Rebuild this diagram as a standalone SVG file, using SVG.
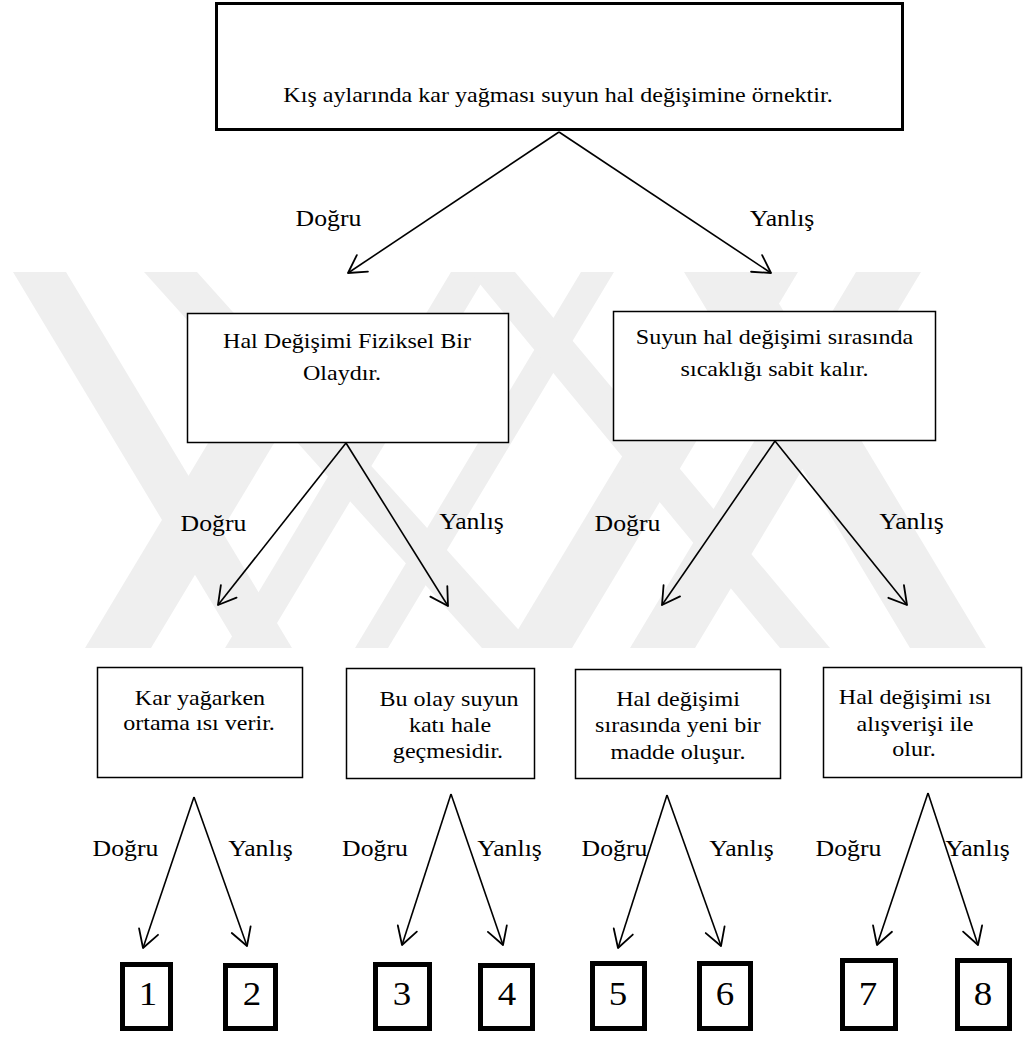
<svg xmlns="http://www.w3.org/2000/svg" width="1026" height="1039" viewBox="0 0 1026 1039">
<style>
  text { font-family: "Liberation Serif", "Times New Roman", serif; font-size: 21.5px; fill: #000; text-anchor: middle; }
  .lbl { font-size: 23px; }
  .num { font-size: 33px; }
  .box { fill: #fff; stroke: #000; stroke-width: 1.5; }
  .top { fill: #fff; stroke: #000; stroke-width: 3; }
  .nbox { fill: #fff; stroke: #000; stroke-width: 5; }
  .wm { fill: #efefef; stroke: none; }
  .conn line { stroke: #000; stroke-width: 1.6; marker-end: url(#arr); }
</style>
<defs>
  <marker id="arr" markerUnits="userSpaceOnUse" viewBox="-22 -13 24 26" markerWidth="24" markerHeight="26" refX="0" refY="0" orient="auto" overflow="visible">
    <path d="M -17.3 -10 L 0 0 L -17.3 10" fill="none" stroke="#000" stroke-width="1.8" stroke-linecap="round" stroke-linejoin="round"/>
  </marker>
</defs>
<rect width="1026" height="1039" fill="#fff"/>
<g id="watermark">
  <polygon class="wm" points="13,272 66,272 292,648 239,648"/>
  <polygon class="wm" points="144,272 197,272 535,648 482,648"/>
  <polygon class="wm" points="451,272 488,272 262,648 225,648"/>
  <polygon class="wm" points="581,272 614,272 388,648 355,648"/>
  <polygon class="wm" points="733,272 798,272 572,648 507,648"/>
  <polygon class="wm" points="470,272 515,272 830,648 780,648"/>
  <polygon class="wm" points="684,272 760,272 986,648 910,648"/>
  <polygon class="wm" points="856,272 921,272 695,648 630,648"/>
  <polygon class="wm" points="234,400 300,400 151,648 85,648"/>
</g>
<g id="connectors" class="conn">
  <line x1="559" y1="132" x2="348" y2="273"/>
  <line x1="559" y1="132" x2="771" y2="273"/>
  <line x1="346" y1="443" x2="218" y2="605"/>
  <line x1="346" y1="443" x2="448" y2="606"/>
  <line x1="775" y1="441" x2="662" y2="605"/>
  <line x1="775" y1="441" x2="907" y2="605"/>
  <line x1="194" y1="797" x2="143" y2="948"/>
  <line x1="194" y1="797" x2="247" y2="946"/>
  <line x1="451" y1="794" x2="402" y2="945"/>
  <line x1="451" y1="794" x2="503" y2="945"/>
  <line x1="667" y1="795" x2="618" y2="948"/>
  <line x1="667" y1="795" x2="721" y2="946"/>
  <line x1="928" y1="793" x2="877" y2="945"/>
  <line x1="928" y1="793" x2="978" y2="945"/>
</g>
<g id="labels">
  <text class="lbl" transform="translate(328.5,226) scale(1.12,1)">Doğru</text>
  <text class="lbl" transform="translate(782,226) scale(1.12,1)">Yanlış</text>
  <text class="lbl" transform="translate(213.5,531) scale(1.12,1)">Doğru</text>
  <text class="lbl" transform="translate(471.5,529) scale(1.12,1)">Yanlış</text>
  <text class="lbl" transform="translate(627.5,531) scale(1.12,1)">Doğru</text>
  <text class="lbl" transform="translate(911.5,529) scale(1.12,1)">Yanlış</text>
  <text class="lbl" transform="translate(125.5,856) scale(1.12,1)">Doğru</text>
  <text class="lbl" transform="translate(260.5,856) scale(1.12,1)">Yanlış</text>
  <text class="lbl" transform="translate(375,856) scale(1.12,1)">Doğru</text>
  <text class="lbl" transform="translate(509.5,856) scale(1.12,1)">Yanlış</text>
  <text class="lbl" transform="translate(614.5,856) scale(1.12,1)">Doğru</text>
  <text class="lbl" transform="translate(741.5,856) scale(1.12,1)">Yanlış</text>
  <text class="lbl" transform="translate(848.5,856) scale(1.12,1)">Doğru</text>
  <text class="lbl" transform="translate(977.5,856) scale(1.12,1)">Yanlış</text>
</g>
<g id="root">
  <rect class="top" x="216.5" y="3.5" width="686" height="126"/>
  <text transform="translate(558,102) scale(1.12,1)">Kış aylarında kar yağması suyun hal değişimine örnektir.</text>
</g>
<g id="q-fiziksel">
  <rect class="box" x="187.5" y="313.5" width="321" height="129"/>
  <text transform="translate(347,348) scale(1.12,1)">Hal Değişimi Fiziksel Bir</text>
  <text transform="translate(342,380) scale(1.12,1)">Olaydır.</text>
</g>
<g id="q-sicaklik">
  <rect class="box" x="613.5" y="311.5" width="322" height="129"/>
  <text transform="translate(774.5,344) scale(1.12,1)">Suyun hal değişimi sırasında</text>
  <text transform="translate(774.5,376) scale(1.12,1)">sıcaklığı sabit kalır.</text>
</g>
<g id="q-kar">
  <rect class="box" x="97.5" y="667.5" width="205" height="110"/>
  <text transform="translate(200,705) scale(1.12,1)">Kar yağarken</text>
  <text transform="translate(199,730) scale(1.12,1)">ortama ısı verir.</text>
</g>
<g id="q-kati">
  <rect class="box" x="346.5" y="668.5" width="188" height="110"/>
  <text transform="translate(449,706) scale(1.12,1)">Bu olay suyun</text>
  <text transform="translate(450,732) scale(1.12,1)">katı hale</text>
  <text transform="translate(448,758) scale(1.12,1)">geçmesidir.</text>
</g>
<g id="q-madde">
  <rect class="box" x="575.5" y="669.5" width="205" height="109"/>
  <text transform="translate(678,706) scale(1.12,1)">Hal değişimi</text>
  <text transform="translate(678,732) scale(1.12,1)">sırasında yeni bir</text>
  <text transform="translate(678,759) scale(1.12,1)">madde oluşur.</text>
</g>
<g id="q-isi">
  <rect class="box" x="823.5" y="667.5" width="198" height="110"/>
  <text transform="translate(915,704) scale(1.12,1)">Hal değişimi ısı</text>
  <text transform="translate(915,731) scale(1.12,1)">alışverişi ile</text>
  <text transform="translate(914,756) scale(1.12,1)">olur.</text>
</g>
<g id="n1"><rect class="nbox" x="122.5" y="964.5" width="48" height="64"/><text class="num" transform="translate(148,1005) scale(1.12,1)">1</text></g>
<g id="n2"><rect class="nbox" x="225.5" y="965.5" width="50" height="63"/><text class="num" transform="translate(252,1005) scale(1.12,1)">2</text></g>
<g id="n3"><rect class="nbox" x="375.5" y="964.5" width="54" height="64"/><text class="num" transform="translate(402,1005) scale(1.12,1)">3</text></g>
<g id="n4"><rect class="nbox" x="480.5" y="965.5" width="52" height="63"/><text class="num" transform="translate(507,1005) scale(1.12,1)">4</text></g>
<g id="n5"><rect class="nbox" x="592.5" y="963.5" width="52" height="65"/><text class="num" transform="translate(618,1005) scale(1.12,1)">5</text></g>
<g id="n6"><rect class="nbox" x="699.5" y="963.5" width="51" height="65"/><text class="num" transform="translate(725,1005) scale(1.12,1)">6</text></g>
<g id="n7"><rect class="nbox" x="842.5" y="960.5" width="53" height="68"/><text class="num" transform="translate(868,1005) scale(1.12,1)">7</text></g>
<g id="n8"><rect class="nbox" x="957.5" y="960.5" width="52" height="68"/><text class="num" transform="translate(983,1005) scale(1.12,1)">8</text></g>
</svg>
